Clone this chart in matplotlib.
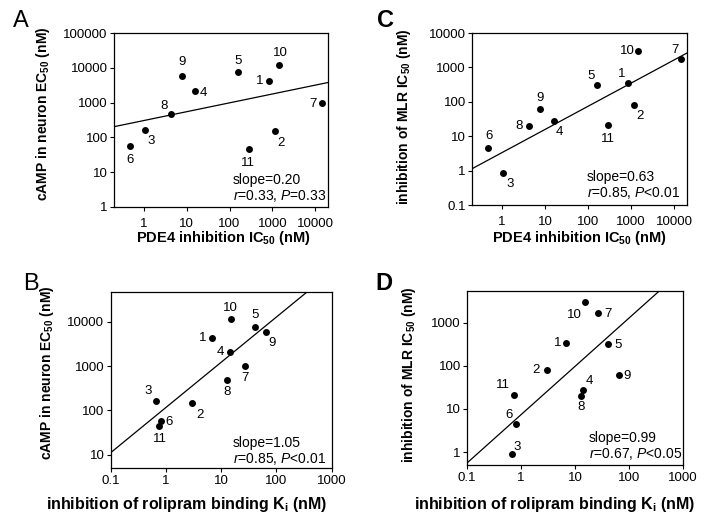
import numpy as np
import matplotlib
matplotlib.use('Agg')
import matplotlib.pyplot as plt

plt.rcParams['font.family'] = ['Liberation Sans', 'DejaVu Sans']
plt.rcParams['mathtext.fontset'] = 'custom'
plt.rcParams['mathtext.rm'] = 'Liberation Sans'
plt.rcParams['mathtext.it'] = 'Liberation Sans:italic'
plt.rcParams['mathtext.bf'] = 'Liberation Sans:bold'

# ---------------- data ----------------
compounds = ['1', '2', '3', '4', '5', '6', '7', '8', '9', '10', '11']
pde4_ic50 = [830, 1140, 1.05, 16, 162, 0.47, 14200, 4.2, 7.8, 1470, 290]
rolipram_ki = [6.8, 3.0, 0.67, 14.2, 41, 0.8, 27, 12.9, 64, 15, 0.75]
camp_ec50 = [4300, 148, 160, 2100, 7500, 58, 980, 475, 6000, 11800, 45]
mlr_ic50 = [345, 79, 0.88, 28, 315, 4.4, 1700, 20, 62, 3080, 21]

# regression lines as drawn: (log-log slope, log10 value at x = 1)
fit_A = (0.254, 2.485)
fit_B = (1.02, 2.065)
fit_C = (0.673, 0.524)
fit_D = (1.12, 0.865)

stats_A = ['slope=0.20', r'$\it{r}$=0.33, $\it{P}$=0.33']
stats_B = ['slope=1.05', r'$\it{r}$=0.85, $\it{P}$<0.01']
stats_C = ['slope=0.63', r'$\it{r}$=0.85, $\it{P}$<0.01']
stats_D = ['slope=0.99', r'$\it{r}$=0.67, $\it{P}$<0.05']

ticks_pde4 = [1, 10, 100, 1000, 10000]
ticks_ki = [0.1, 1, 10, 100, 1000]
ticks_camp_A = [1, 10, 100, 1000, 10000, 100000]
ticks_camp_B = [10, 100, 1000, 10000]
ticks_mlr_C = [0.1, 1, 10, 100, 1000, 10000]
ticks_mlr_D = [1, 10, 100, 1000]

# ---------------- layout ----------------
W, H = 714, 521
fig = plt.figure(figsize=(W / 100, H / 100), dpi=100)


def box(l, t, r, b):
    return [l / W, 1 - b / H, (r - l) / W, (b - t) / H]


# label offsets in pixels (dx, dy) for each compound
off_A = {'1': (-9, 0), '2': (6, -12), '3': (6, -11), '4': (8, -2), '5': (0, 11),
         '6': (0, -14), '7': (-9, -1), '8': (-7, 8), '9': (0, 14), '10': (1, 12),
         '11': (-1, -14)}
off_C = {'1': (-6, 9), '2': (6, -11), '3': (7, -11), '4': (6, -11), '5': (-6, 9),
         '6': (1, 12), '7': (-6, 9), '8': (-10, 0), '9': (0, 11), '10': (-11, 0),
         '11': (0, -14)}
off_B = {'1': (-9, 0), '2': (8, -12), '3': (-8, 10), '4': (-9, 0), '5': (0, 12),
         '6': (9, -1), '7': (0, -12), '8': (0, -12), '9': (6, -11), '10': (0, 11),
         '11': (1, -13)}
off_D = {'1': (-8, 0), '2': (-11, 0), '3': (6, 7), '4': (6, 9), '5': (10, -1),
         '6': (-7, 9), '7': (10, -1), '8': (0, -11), '9': (9, -1), '10': (-10, -13),
         '11': (-11, 10)}

panels = [
    dict(pos=box(114, 33, 328, 207), x=pde4_ic50, y=camp_ec50, xlim=(0.2, 20000),
         ylim=(1, 100000), xt=ticks_pde4, yt=ticks_camp_A, fit=fit_A, stats=stats_A,
         off=off_A, st_xy=(0.555, 0.155), xpad=5),
    dict(pos=box(472, 33, 687, 205), x=pde4_ic50, y=mlr_ic50, xlim=(0.2, 20000),
         ylim=(0.1, 10000), xt=ticks_pde4, yt=ticks_mlr_C, fit=fit_C, stats=stats_C,
         off=off_C, st_xy=(0.535, 0.163), xpad=5),
    dict(pos=box(110.7, 292, 331.5, 468), x=rolipram_ki, y=camp_ec50, xlim=(0.1, 1000),
         ylim=(5, 47000), xt=ticks_ki, yt=ticks_camp_B, fit=fit_B, stats=stats_B,
         off=off_B, st_xy=(0.553, 0.144), xpad=2),
    dict(pos=box(467, 291, 683, 465), x=rolipram_ki, y=mlr_ic50, xlim=(0.1, 1000),
         ylim=(0.5, 5400), xt=ticks_ki, yt=ticks_mlr_D, fit=fit_D, stats=stats_D,
         off=off_D, st_xy=(0.563, 0.154), xpad=2),
]


def fmt(v):
    return ('%g' % v) if v < 1 else str(int(v))


for p in panels:
    ax = fig.add_axes(p['pos'])
    ax.set_xscale('log')
    ax.set_yscale('log')
    ax.set_xlim(*p['xlim'])
    ax.set_ylim(*p['ylim'])
    ax.set_xticks(p['xt'], [fmt(v) for v in p['xt']])
    ax.set_yticks(p['yt'], [fmt(v) for v in p['yt']])
    ax.minorticks_off()
    ax.tick_params(axis='both', direction='out', length=3, width=0.8,
                   labelsize=9.5, colors='black')
    ax.tick_params(axis='y', pad=1.5)
    ax.tick_params(axis='x', pad=p['xpad'])
    for s in ax.spines.values():
        s.set_linewidth(0.9)
        s.set_color('black')
    m, b = p['fit']
    lx = np.logspace(np.log10(p['xlim'][0]), np.log10(p['xlim'][1]), 50)
    ax.plot(lx, 10 ** (b + m * np.log10(lx)), color='black', lw=0.9)
    ax.plot(p['x'], p['y'], 'o', color='black', ms=5, mew=0, clip_on=False)
    for name, xv, yv in zip(compounds, p['x'], p['y']):
        dx, dy = p['off'][name]
        ax.annotate(name, (xv, yv), xytext=(dx, dy), textcoords='offset pixels',
                    ha='center', va='center', fontsize=9.5)
    sx, sy = p['st_xy']
    ax.text(sx, sy, p['stats'][0], transform=ax.transAxes, fontsize=10,
            ha='left', va='center')
    ax.text(sx, sy - 0.092, p['stats'][1], transform=ax.transAxes, fontsize=10,
            ha='left', va='center')

# axis labels
lab_cAMP = r'cAMP in neuron EC$_{\mathbf{50}}$ (nM)'
lab_MLR = r'inhibition of MLR IC$_{\mathbf{50}}$ (nM)'
lab_PDE4 = r'PDE4 inhibition IC$_{\mathbf{50}}$ (nM)'
lab_Ki = r'inhibition of rolipram binding K$_{\mathbf{i}}$ (nM)'

fig.text(43 / W, 1 - 114 / H, lab_cAMP, rotation=90, ha='center', va='center',
         fontsize=10, fontweight='bold')
fig.text(404 / W, 1 - 117 / H, lab_MLR, rotation=90, ha='center', va='center',
         fontsize=10, fontweight='bold')
fig.text(47 / W, 1 - 373 / H, lab_cAMP, rotation=90, ha='center', va='center',
         fontsize=10, fontweight='bold')
fig.text(409 / W, 1 - 375 / H, lab_MLR, rotation=90, ha='center', va='center',
         fontsize=10, fontweight='bold')
fig.text(223 / W, 1 - 238 / H, lab_PDE4, ha='center', va='center',
         fontsize=10.5, fontweight='bold')
fig.text(579 / W, 1 - 238 / H, lab_PDE4, ha='center', va='center',
         fontsize=10.5, fontweight='bold')
fig.text(187 / W, 1 - 505 / H, lab_Ki, ha='center', va='center',
         fontsize=11.5, fontweight='bold')
fig.text(555 / W, 1 - 505 / H, lab_Ki, ha='center', va='center',
         fontsize=11.5, fontweight='bold')

# panel letters
fig.text(13 / W, 1 - 27 / H, 'A', fontsize=17, ha='left', va='baseline')
fig.text(377 / W, 1 - 27 / H, 'C', fontsize=17, fontweight='bold', ha='left', va='baseline')
fig.text(23 / W, 1 - 290 / H, 'B', fontsize=17, ha='left', va='baseline')
fig.text(375 / W, 1 - 290 / H, 'D', fontsize=17, fontweight='bold', ha='left', va='baseline')

fig.savefig('out.png', dpi=100)
